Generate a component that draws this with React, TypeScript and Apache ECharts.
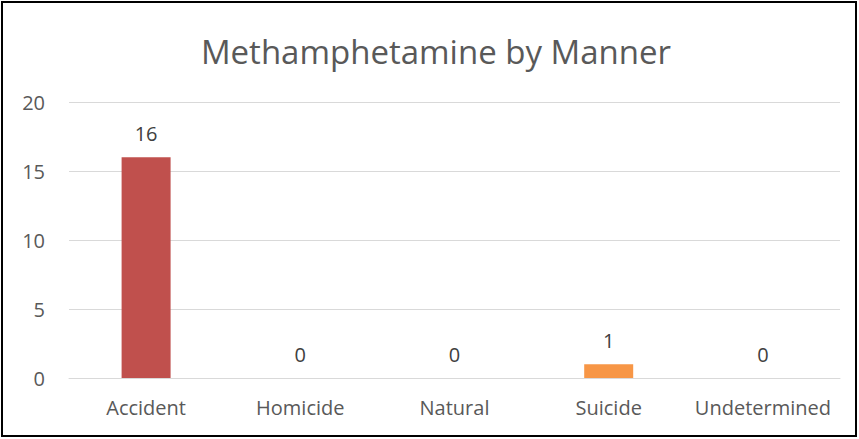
import React, { useEffect, useRef } from "react";
import * as echarts from "echarts";

const categories = ["Accident", "Homicide", "Natural", "Suicide", "Undetermined"];
const values = [16, 0, 0, 1, 0];
const barColors = ["#C0504D", "#9BBB59", "#8064A2", "#F79646", "#4BACC6"];
const yTicks = { min: 0, max: 20, interval: 5 };

export default function App() {
  const ref = useRef<HTMLDivElement>(null);
  useEffect(() => {
    document.body.style.margin = "0";
    const chart = echarts.init(ref.current!, null, { renderer: "svg" });
    const font = "'Open Sans', 'Noto Sans', sans-serif";
    chart.setOption({
      animation: false,
      backgroundColor: "#fff",
      title: {
        text: "Methamphetamine by Manner",
        left: 431,
        textAlign: "center",
        top: 30,
        textStyle: { fontFamily: font, fontSize: 33, fontWeight: "normal", color: "#595959" },
      },
      grid: { left: 69, right: 19, top: 102, bottom: 61 },
      xAxis: {
        type: "category",
        data: categories,
        axisLine: { lineStyle: { color: "#D9D9D9", width: 1 } },
        axisTick: { show: false },
        axisLabel: { fontFamily: font, fontSize: 20, color: "#595959", margin: 19, interval: 0 },
      },
      yAxis: {
        type: "value",
        min: yTicks.min,
        max: yTicks.max,
        interval: yTicks.interval,
        axisLine: { show: false },
        axisTick: { show: false },
        splitLine: { lineStyle: { color: "#D9D9D9", width: 1 } },
        axisLabel: { fontFamily: font, fontSize: 20, color: "#595959", margin: 24 },
      },
      series: [
        {
          type: "bar",
          data: values.map((v, i) => ({ value: v, itemStyle: { color: barColors[i] } })),
          barWidth: 49,
          label: {
            show: true,
            position: "top",
            distance: 14,
            fontFamily: font,
            fontSize: 20,
            color: "#404040",
          },
        },
      ],
      graphic: [
        {
          type: "rect",
          shape: { x: 2, y: 2, width: 854, height: 434 },
          style: { fill: "none", stroke: "#000", lineWidth: 2 },
          silent: true,
        },
      ],
    });
    return () => chart.dispose();
  }, []);
  return <div ref={ref} style={{ width: 859, height: 439 }} />;
}
